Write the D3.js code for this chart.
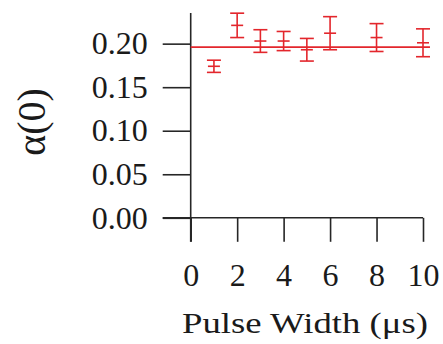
<!DOCTYPE html>
<html>
<head>
<meta charset="utf-8">
<script src="https://cdn.jsdelivr.net/npm/d3@7"></script>
<style>
  html, body { margin: 0; padding: 0; background: #fff; }
  svg { display: block; }
  text { font-family: "Liberation Serif", "Times New Roman", serif; fill: #1a1a1a; }
</style>
</head>
<body>
<svg id="chart" width="443" height="344"></svg>
<script>
// Measured alpha(0) versus pulse width, with one-sigma error bars
const pulseWidth = [1, 2, 3, 4, 5, 6, 8, 10];
const alpha0     = [0.174, 0.221, 0.203, 0.203, 0.193, 0.212, 0.207, 0.201];
const alphaErr   = [0.007, 0.014, 0.013, 0.011, 0.013, 0.019, 0.016, 0.016];
const fitLevel   = 0.196;           // constant fit across all widths
const fitSpan    = [0, 10.3];
const xTicks = [0, 2, 4, 6, 8, 10];
const yTicks = [0, 0.05, 0.10, 0.15, 0.20];
const xTitle = "Pulse Width (\u03bcs)";
const yTitle = "\u03b1(0)";

const red = "#e3262c";
const ink = "#262626";

const svg = d3.select("#chart");

const x = d3.scaleLinear().domain([0, 10]).range([190.7, 423]);
const y = d3.scaleLinear().domain([0, 0.2352]).range([217.8, 13]);

// Y axis
const yAxis = d3.axisLeft(y)
  .tickValues(yTicks)
  .tickFormat(d3.format(".2f"))
  .tickSize(28)
  .tickSizeOuter(0)
  .tickPadding(15);
const gy = svg.append("g").attr("transform", `translate(${x(0)},0)`).call(yAxis);
gy.select(".domain").remove();
gy.selectAll(".tick line").attr("stroke", ink).attr("stroke-width", 1.6);
gy.selectAll(".tick text").style("font-size", "32px").attr("fill", "#1a1a1a");

// X axis
const xAxis = d3.axisBottom(x)
  .tickValues(xTicks)
  .tickSize(24)
  .tickSizeOuter(0)
  .tickPadding(21);
const gx = svg.append("g").attr("transform", `translate(0,${y(0)})`).call(xAxis);
gx.select(".domain").remove();
gx.selectAll(".tick line").attr("stroke", ink).attr("stroke-width", 1.6);
gx.selectAll(".tick text").style("font-size", "32px").attr("fill", "#1a1a1a");

// Axis spines
svg.append("line")
  .attr("x1", x(0)).attr("x2", x(0))
  .attr("y1", y.range()[1]).attr("y2", y(0) + 24)
  .attr("stroke", ink).attr("stroke-width", 1.6);
svg.append("line")
  .attr("x1", x(0) - 28).attr("x2", x(10))
  .attr("y1", y(0)).attr("y2", y(0))
  .attr("stroke", ink).attr("stroke-width", 1.6);

// Fit line
svg.append("line")
  .attr("x1", x(fitSpan[0])).attr("x2", x(fitSpan[1]))
  .attr("y1", y(fitLevel)).attr("y2", y(fitLevel))
  .attr("stroke", red).attr("stroke-width", 1.6);

// Error bars with a dash at each mean
const pts = pulseWidth.map((w, i) => ({ w, v: alpha0[i], e: alphaErr[i] }));
const capHalf = 7;
const g = svg.append("g").attr("stroke", red).attr("stroke-width", 1.6).attr("fill", "none");
const bar = g.selectAll("g.bar").data(pts).join("g").attr("class", "bar");
bar.append("line")
  .attr("x1", d => x(d.w)).attr("x2", d => x(d.w))
  .attr("y1", d => y(d.v + d.e)).attr("y2", d => y(d.v - d.e));
bar.append("line")
  .attr("x1", d => x(d.w) - capHalf).attr("x2", d => x(d.w) + capHalf)
  .attr("y1", d => y(d.v + d.e)).attr("y2", d => y(d.v + d.e));
bar.append("line")
  .attr("x1", d => x(d.w) - capHalf).attr("x2", d => x(d.w) + capHalf)
  .attr("y1", d => y(d.v - d.e)).attr("y2", d => y(d.v - d.e));
bar.append("line")
  .attr("x1", d => x(d.w) - capHalf + 1).attr("x2", d => x(d.w) + capHalf - 1)
  .attr("y1", d => y(d.v)).attr("y2", d => y(d.v));

// Axis titles
svg.append("text")
  .attr("x", 305).attr("y", 333)
  .attr("text-anchor", "middle")
  .attr("textLength", 246)
  .attr("lengthAdjust", "spacingAndGlyphs")
  .style("font-size", "30px")
  .text(xTitle);

svg.append("text")
  .attr("transform", "translate(45,122) rotate(-90)")
  .attr("text-anchor", "middle")
  .style("font-size", "40px")
  .text(yTitle);
</script>
</body>
</html>
